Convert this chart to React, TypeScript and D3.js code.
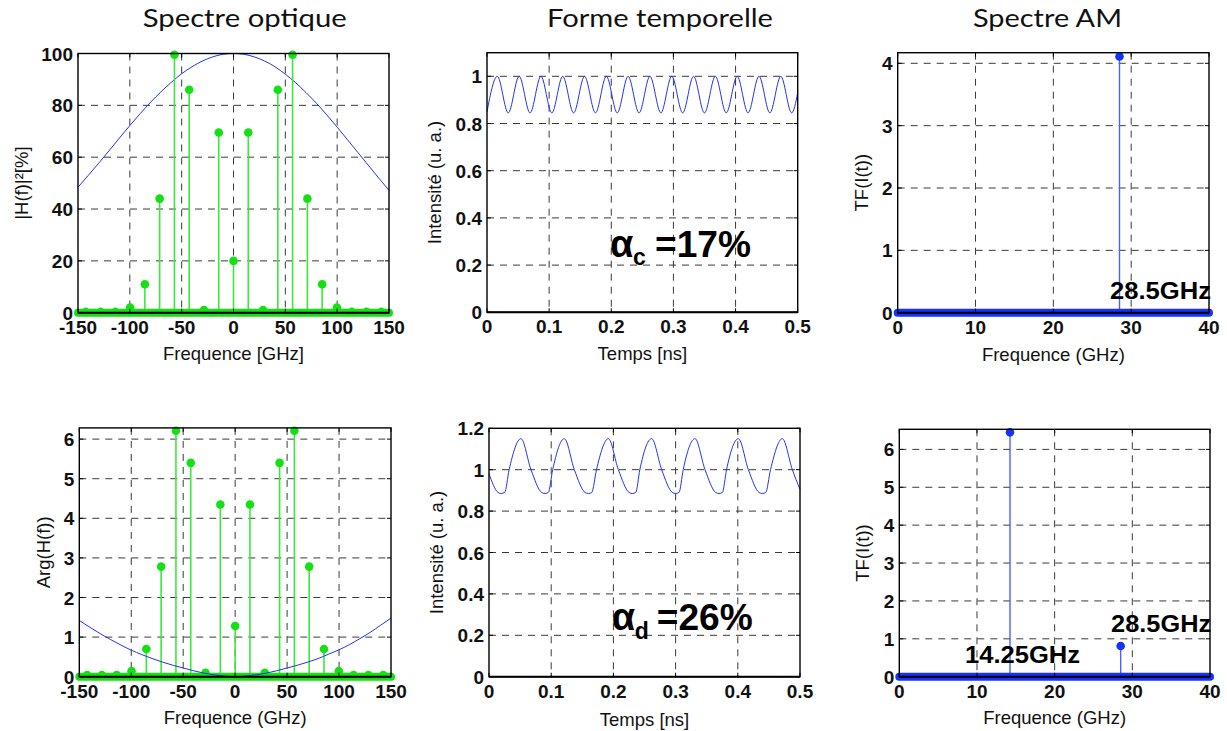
import React from 'react';
import * as d3 from 'd3';

// ---------------- DATA ----------------
const titles = ['Spectre optique', 'Forme temporelle', 'Spectre AM'];

const opticalFreqs = [-142.5, -128.25, -114, -99.75, -85.5, -71.25, -57, -42.75, -28.5, -14.25, 0, 14.25, 28.5, 42.75, 57, 71.25, 85.5, 99.75, 114, 128.25, 142.5];
const opticalPower = [0.3, 0.3, 0.3, 2, 11, 44, 99.5, 86, 1, 69.5, 20, 69.5, 1, 86, 99.5, 44, 11, 2, 0.3, 0.3, 0.3];
const opticalPhase = [0.04, 0.04, 0.04, 0.14, 0.7, 2.78, 6.21, 5.4, 0.1, 4.35, 1.28, 4.35, 0.1, 5.4, 6.21, 2.78, 0.7, 0.14, 0.04, 0.04, 0.04];

const filterFreqs = [-150, -140, -130, -120, -110, -100, -90, -80, -70, -60, -50, -40, -30, -20, -10, 0, 10, 20, 30, 40, 50, 60, 70, 80, 90, 100, 110, 120, 130, 140, 150];
const filterPower = [48.4, 53, 57.7, 62.5, 67.4, 72.2, 76.8, 81.2, 85.2, 88.9, 92.2, 94.9, 97.1, 98.7, 99.7, 100, 99.7, 98.7, 97.1, 94.9, 92.0, 88.7, 84.9, 80.8, 76.3, 71.6, 66.7, 61.8, 56.9, 52.0, 47.2];
const filterPhase = [1.42, 1.25, 1.09, 0.94, 0.8, 0.67, 0.56, 0.46, 0.37, 0.29, 0.22, 0.15, 0.09, 0.045, 0.015, 0, 0.015, 0.045, 0.09, 0.15, 0.22, 0.29, 0.37, 0.46, 0.57, 0.68, 0.81, 0.96, 1.12, 1.3, 1.48];

const timeC = [0, 0.0166, 0.0342, 0.0517, 0.0693, 0.0868, 0.1043, 0.1219, 0.1394, 0.157, 0.1745, 0.1921, 0.2096, 0.2271, 0.2447, 0.2622, 0.2798, 0.2973, 0.3149, 0.3324, 0.3499, 0.3675, 0.385, 0.4026, 0.4201, 0.4377, 0.4552, 0.4728, 0.4903, 0.5];
const intensityC = [0.85, 1.0, 0.845, 1.0, 0.845, 1.0, 0.845, 1.0, 0.845, 1.0, 0.845, 1.0, 0.845, 1.0, 0.845, 1.0, 0.845, 1.0, 0.845, 1.0, 0.845, 1.0, 0.845, 1.0, 0.845, 1.0, 0.845, 1.0, 0.845, 0.93];

const timeD = [0, 0.0145, 0.019, 0.0252, 0.0324, 0.0514, 0.0675, 0.0847, 0.09, 0.0954, 0.1024, 0.1211, 0.1372, 0.1544, 0.1598, 0.1652, 0.1728, 0.1919, 0.208, 0.2252, 0.2305, 0.2359, 0.2425, 0.2615, 0.2776, 0.2948, 0.3001, 0.3055, 0.3122, 0.3312, 0.3473, 0.3645, 0.3698, 0.3752, 0.3819, 0.4009, 0.417, 0.4342, 0.4395, 0.4449, 0.4526, 0.4716, 0.4877, 0.5];
const intensityD = [0.98, 0.89, 0.885, 0.89, 1.0, 1.15, 1.0, 0.89, 0.885, 0.89, 1.0, 1.15, 1.0, 0.89, 0.885, 0.89, 1.0, 1.15, 1.0, 0.89, 0.885, 0.89, 1.0, 1.15, 1.0, 0.89, 0.885, 0.89, 1.0, 1.15, 1.0, 0.89, 0.885, 0.89, 1.0, 1.15, 1.0, 0.89, 0.885, 0.89, 1.0, 1.15, 1.0, 0.905];

const amFreqsC = [28.5];
const amValuesC = [4.11];
const amFreqsD = [14.25, 28.5];
const amValuesD = [6.45, 0.81];

const opticalXTicks = [-150, -100, -50, 0, 50, 100, 150];
const powerYTicks = [0, 20, 40, 60, 80, 100];
const phaseYTicks = [0, 1, 2, 3, 4, 5, 6];
const timeXTicks = [0, 0.1, 0.2, 0.3, 0.4, 0.5];
const intensityYTicksC = [0, 0.2, 0.4, 0.6, 0.8, 1];
const intensityYTicksD = [0, 0.2, 0.4, 0.6, 0.8, 1, 1.2];
const amXTicks = [0, 10, 20, 30, 40];
const amYTicksC = [0, 1, 2, 3, 4];
const amYTicksD = [0, 1, 2, 3, 4, 5, 6];

// ---------------- STYLE ----------------
const FONT = "'Liberation Sans', Arial, Helvetica, sans-serif";
const GREEN_STEM = '#3de83d';
const GREEN_DOT = '#14e014';
const BLUE_LINE = '#2233ee';
const BLUE_STEM = '#4a62ff';
const BLUE_DOT = '#1432ff';
const GRID = '#3a3a3a';

type Box = { left: number; right: number; top: number; bottom: number };
type Scales = { x: d3.ScaleLinear<number, number>; y: d3.ScaleLinear<number, number> };

function Panel(props: {
  box: Box;
  xDomain: [number, number];
  yDomain: [number, number];
  xTicks: number[];
  yTicks: number[];
  xLabel: string;
  yLabel: string;
  yLabelX: number;
  xLabelY: number;
  children: (s: Scales) => React.ReactNode;
}) {
  const { box, xDomain, yDomain, xTicks, yTicks, xLabel, yLabel, yLabelX, xLabelY } = props;
  const x = d3.scaleLinear().domain(xDomain).range([box.left, box.right]);
  const y = d3.scaleLinear().domain(yDomain).range([box.bottom, box.top]);
  const eps = 1e-9;
  const innerX = xTicks.filter((t) => t > xDomain[0] + eps && t < xDomain[1] - eps);
  const innerY = yTicks.filter((t) => t > yDomain[0] + eps && t < yDomain[1] - eps);
  const tl = 4;
  return (
    <g>
      <rect x={box.left} y={box.top} width={box.right - box.left} height={box.bottom - box.top} fill="#fff" />
      {innerX.map((t) => (
        <line key={'gx' + t} x1={x(t)} x2={x(t)} y1={box.top} y2={box.bottom} stroke={GRID} strokeWidth={1} strokeDasharray="7,6" />
      ))}
      {innerY.map((t) => (
        <line key={'gy' + t} x1={box.left} x2={box.right} y1={y(t)} y2={y(t)} stroke={GRID} strokeWidth={1} strokeDasharray="7,6" />
      ))}
      {props.children({ x, y })}
      <rect x={box.left} y={box.top} width={box.right - box.left} height={box.bottom - box.top} fill="none" stroke="#000" strokeWidth={1.4} />
      <line x1={box.left} x2={box.right} y1={box.bottom} y2={box.bottom} stroke="#000" strokeWidth={2} />
      {xTicks.map((t) => (
        <g key={'tx' + t}>
          <line x1={x(t)} x2={x(t)} y1={box.bottom} y2={box.bottom - tl} stroke="#000" />
          <line x1={x(t)} x2={x(t)} y1={box.top} y2={box.top + tl} stroke="#000" />
          <text x={x(t)} y={box.bottom + 21} textAnchor="middle" fontFamily={FONT} fontWeight="bold" fontSize={19} fill="#111">
            {String(t)}
          </text>
        </g>
      ))}
      {yTicks.map((t) => (
        <g key={'ty' + t}>
          <line x1={box.left} x2={box.left + tl} y1={y(t)} y2={y(t)} stroke="#000" />
          <line x1={box.right} x2={box.right - tl} y1={y(t)} y2={y(t)} stroke="#000" />
          <text x={box.left - 5} y={y(t) + 7} textAnchor="end" fontFamily={FONT} fontWeight="bold" fontSize={19} fill="#111">
            {String(t)}
          </text>
        </g>
      ))}
      <text x={(box.left + box.right) / 2} y={xLabelY} textAnchor="middle" fontFamily={FONT} fontSize={18.5} fill="#111">
        {xLabel}
      </text>
      <text
        transform={`translate(${yLabelX},${(box.top + box.bottom) / 2}) rotate(-90)`}
        textAnchor="middle"
        dominantBaseline="central"
        fontFamily={FONT}
        fontSize={18.5}
        fill="#111"
      >
        {yLabel}
      </text>
    </g>
  );
}

function Stems({ s, xs, vs, stemColor, dotColor, width }: { s: Scales; xs: number[]; vs: number[]; stemColor: string; dotColor: string; width: number }) {
  return (
    <g>
      {xs.map((f, i) => (
        <line key={'s' + i} x1={s.x(f)} x2={s.x(f)} y1={s.y(0)} y2={s.y(vs[i])} stroke={stemColor} strokeWidth={width} />
      ))}
      {xs.map((f, i) => (
        <circle key={'c' + i} cx={s.x(f)} cy={s.y(vs[i])} r={4.3} fill={dotColor} />
      ))}
    </g>
  );
}

function Band({ s, from, to, color }: { s: Scales; from: number; to: number; color: string }) {
  return <line x1={s.x(from)} x2={s.x(to)} y1={s.y(0)} y2={s.y(0)} stroke={color} strokeWidth={8} strokeLinecap="round" />;
}

function Alpha({ s, t, v, sub, value, subDy }: { s: Scales; t: number; v: number; sub: string; value: string; subDy: number }) {
  const x0 = s.x(t);
  const y0 = s.y(v);
  return (
    <g fontFamily={FONT} fontWeight="bold" fill="#000">
      <text x={x0} y={y0} fontSize={38}>α</text>
      <text x={x0 + 23} y={y0 + subDy} fontSize={23}>{sub}</text>
      <text x={x0 + 45} y={y0} fontSize={36} textLength={96} lengthAdjust="spacingAndGlyphs">{value}</text>
    </g>
  );
}

function Label({ s, f, v, text, len }: { s: Scales; f: number; v: number; text: string; len: number }) {
  return (
    <text x={s.x(f)} y={s.y(v)} fontFamily={FONT} fontWeight="bold" fontSize={24} fill="#000" textLength={len} lengthAdjust="spacingAndGlyphs">
      {text}
    </text>
  );
}

export default function App() {
  const curve = (xs: number[], ys: number[], s: Scales, c: d3.CurveFactory) =>
    d3
      .line<number>()
      .x((d, i) => s.x(xs[i]))
      .y((d, i) => s.y(ys[i]))
      .curve(c)(ys) || '';

  const titleX = [244.7, 660, 1047.5];
  const titleW = [204, 226, 149];

  return (
    <svg width={1227} height={731} style={{ position: 'absolute', left: 0, top: 0, background: '#fff' }}>
      <rect width={1227} height={731} fill="#fff" />
      {titles.map((t, i) => (
        <text
          key={t}
          x={titleX[i]}
          y={27}
          textAnchor="middle"
          fontFamily="Lato, 'Open Sans', 'DejaVu Sans', sans-serif"
          fontWeight={400}
          fontSize={25}
          fill="#111"
          textLength={titleW[i]}
          lengthAdjust="spacingAndGlyphs"
        >
          {t}
        </text>
      ))}

      {/* Top-left: optical spectrum power */}
      <Panel
        box={{ left: 78, right: 389, top: 53.5, bottom: 312.7 }}
        xDomain={[-150, 150]}
        yDomain={[0, 100]}
        xTicks={opticalXTicks}
        yTicks={powerYTicks}
        xLabel="Frequence [GHz]"
        yLabel="|H(f)|²[%]"
        yLabelX={21.7}
        xLabelY={359.5}
      >
        {(s) => (
          <g>
            <path d={curve(filterFreqs, filterPower, s, d3.curveMonotoneX)} fill="none" stroke={BLUE_LINE} strokeWidth={1} />
            <Stems s={s} xs={opticalFreqs} vs={opticalPower} stemColor={GREEN_STEM} dotColor={GREEN_DOT} width={1.6} />
            <Band s={s} from={-150} to={150} color={GREEN_DOT} />
          </g>
        )}
      </Panel>

      {/* Bottom-left: optical spectrum phase */}
      <Panel
        box={{ left: 79.3, right: 391, top: 427.9, bottom: 676.7 }}
        xDomain={[-150, 150]}
        yDomain={[0, 6.2832]}
        xTicks={opticalXTicks}
        yTicks={phaseYTicks}
        xLabel="Frequence (GHz)"
        yLabel="Arg(H(f))"
        yLabelX={43}
        xLabelY={724}
      >
        {(s) => (
          <g>
            <Stems s={s} xs={opticalFreqs} vs={opticalPhase} stemColor={GREEN_STEM} dotColor={GREEN_DOT} width={1.6} />
            <Band s={s} from={-150} to={150} color={GREEN_DOT} />
            <path d={curve(filterFreqs, filterPhase, s, d3.curveMonotoneX)} fill="none" stroke={BLUE_LINE} strokeWidth={1} />
          </g>
        )}
      </Panel>

      {/* Top-middle: temporal shape, case c */}
      <Panel
        box={{ left: 487, right: 797.7, top: 52.7, bottom: 312.3 }}
        xDomain={[0, 0.5]}
        yDomain={[0, 1.1]}
        xTicks={timeXTicks}
        yTicks={intensityYTicksC}
        xLabel="Temps [ns]"
        yLabel="Intensité (u. a.)"
        yLabelX={434}
        xLabelY={360}
      >
        {(s) => (
          <g>
            <path d={curve(timeC, intensityC, s, d3.curveMonotoneX)} fill="none" stroke={BLUE_LINE} strokeWidth={1} />
            <Alpha s={s} t={0.198} v={0.234} sub="c" value="=17%" subDy={8} />
          </g>
        )}
      </Panel>

      {/* Bottom-middle: temporal shape, case d */}
      <Panel
        box={{ left: 489, right: 800, top: 428.3, bottom: 676.7 }}
        xDomain={[0, 0.5]}
        yDomain={[0, 1.2]}
        xTicks={timeXTicks}
        yTicks={intensityYTicksD}
        xLabel="Temps [ns]"
        yLabel="Intensité (u. a.)"
        yLabelX={436}
        xLabelY={725.5}
      >
        {(s) => (
          <g>
            <path d={curve(timeD, intensityD, s, d3.curveMonotoneX)} fill="none" stroke={BLUE_LINE} strokeWidth={1} />
            <Alpha s={s} t={0.1973} v={0.2256} sub="d" value="=26%" subDy={9} />
          </g>
        )}
      </Panel>

      {/* Top-right: AM spectrum, case c */}
      <Panel
        box={{ left: 897.7, right: 1209, top: 52.7, bottom: 312.7 }}
        xDomain={[0, 40]}
        yDomain={[0, 4.17]}
        xTicks={amXTicks}
        yTicks={amYTicksC}
        xLabel="Frequence (GHz)"
        yLabel="TF(I(t))"
        yLabelX={861}
        xLabelY={361}
      >
        {(s) => (
          <g>
            <Stems s={s} xs={amFreqsC} vs={amValuesC} stemColor={BLUE_STEM} dotColor={BLUE_DOT} width={1.4} />
            <Band s={s} from={0} to={40} color={BLUE_DOT} />
            <Label s={s} f={27.28} v={0.215} text="28.5GHz" len={101} />
          </g>
        )}
      </Panel>

      {/* Bottom-right: AM spectrum, case d */}
      <Panel
        box={{ left: 899.3, right: 1210, top: 429.3, bottom: 676.7 }}
        xDomain={[0, 40]}
        yDomain={[0, 6.53]}
        xTicks={amXTicks}
        yTicks={amYTicksD}
        xLabel="Frequence (GHz)"
        yLabel="TF(I(t))"
        yLabelX={862.5}
        xLabelY={724}
      >
        {(s) => (
          <g>
            <Stems s={s} xs={amFreqsD} vs={amValuesD} stemColor={BLUE_STEM} dotColor={BLUE_DOT} width={1.4} />
            <Band s={s} from={0} to={40} color={BLUE_DOT} />
            <Label s={s} f={8.46} v={0.36} text="14.25GHz" len={115} />
            <Label s={s} f={27.27} v={1.18} text="28.5GHz" len={100} />
          </g>
        )}
      </Panel>
    </svg>
  );
}
